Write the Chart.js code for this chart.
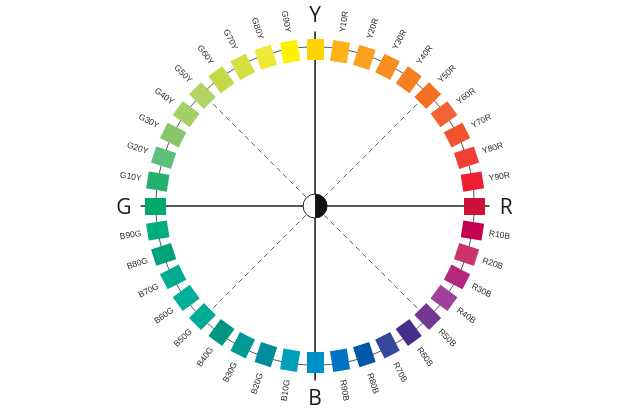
<!DOCTYPE html>
<html><head><meta charset="utf-8">
<script src="https://cdn.jsdelivr.net/npm/chart.js@4.4.0/dist/chart.umd.min.js"></script>
<style>html,body{margin:0;padding:0;background:#fff;}canvas{display:block;}</style>
</head><body>
<canvas id="c" width="635" height="413" style="width:635px;height:413px"></canvas>
<script>
const hues = ['Y','Y10R','Y20R','Y30R','Y40R','Y50R','Y60R','Y70R','Y80R','Y90R',
  'R','R10B','R20B','R30B','R40B','R50B','R60B','R70B','R80B','R90B',
  'B','B10G','B20G','B30G','B40G','B50G','B60G','B70G','B80G','B90G',
  'G','G10Y','G20Y','G30Y','G40Y','G50Y','G60Y','G70Y','G80Y','G90Y'];
const colors = ['#FFD200','#FDB21A','#F9A11E','#F68F1F','#F47E20','#F37022','#F26232','#F0542F','#EE4034','#ED1C2E',
  '#CE1139','#C4004F','#C8336C','#B3287C','#A1409A','#753890','#452F8A','#37479B','#0057A5','#0074C2',
  '#0090C8','#00A0B8','#008C99','#009A95','#009680','#00AA94','#00AF96','#00AB90','#00A27C','#00AD80',
  '#00A96C','#23AF6E','#5EBF7B','#87C669','#A3CF67','#B2D462','#C3D948','#D4E042','#EEE837','#FFF200'];
const primaryLetters = ['Y','R','B','G'];

const R_PX = 165, CX = 315, CY = 206, W = 635, H = 413;
const STEP = 360 / hues.length;

function makeTile(col){
  const c = document.createElement('canvas');
  c.width = 17; c.height = 21;
  const g = c.getContext('2d');
  g.fillStyle = col; g.fillRect(0,0,17,21);
  return c;
}
const tiles = colors.map(makeTile);
const points = hues.map((h,i)=>{ const a = i*STEP*Math.PI/180; return {x: Math.sin(a), y: Math.cos(a)}; });
const rotations = hues.map((h,i)=> i*STEP);

const decor = {
  id:'decor',
  beforeDatasetsDraw(chart){
    const {ctx, scales:{x,y}} = chart;
    const cx = x.getPixelForValue(0), cy = y.getPixelForValue(0);
    const r = x.getPixelForValue(1) - cx;
    ctx.save();
    ctx.strokeStyle = '#555'; ctx.lineWidth = 1;
    ctx.beginPath(); ctx.arc(cx, cy, r, 0, Math.PI*2); ctx.stroke();
    ctx.setLineDash([5,4]); ctx.strokeStyle = '#444'; ctx.lineWidth = 0.9;
    [45,135,225,315].forEach(d=>{
      const a = d*Math.PI/180;
      ctx.beginPath();
      ctx.moveTo(cx + Math.sin(a)*13, cy - Math.cos(a)*13);
      ctx.lineTo(cx + Math.sin(a)*r*0.93, cy - Math.cos(a)*r*0.93);
      ctx.stroke();
    });
    ctx.setLineDash([]);
    const L = r*1.095;
    ctx.strokeStyle = '#222'; ctx.lineWidth = 1.6;
    ctx.beginPath();
    ctx.moveTo(cx - L, cy); ctx.lineTo(cx + L, cy);
    ctx.moveTo(cx, cy - L); ctx.lineTo(cx, cy + L);
    ctx.stroke();
    ctx.restore();
  },
  afterDatasetsDraw(chart){
    const {ctx, scales:{x,y}} = chart;
    const cx = x.getPixelForValue(0), cy = y.getPixelForValue(0);
    const r = x.getPixelForValue(1) - cx;
    ctx.save();
    const cr = 12;
    ctx.fillStyle = '#fff';
    ctx.beginPath(); ctx.arc(cx, cy, cr, 0, Math.PI*2); ctx.fill();
    ctx.fillStyle = '#111';
    ctx.beginPath(); ctx.arc(cx, cy, cr, -Math.PI/2, Math.PI/2); ctx.closePath(); ctx.fill();
    ctx.strokeStyle = '#222'; ctx.lineWidth = 1;
    ctx.beginPath(); ctx.arc(cx, cy, cr, 0, Math.PI*2); ctx.stroke();
    ctx.fillStyle = '#2a2a2a';
    ctx.font = '8.5px "Liberation Sans", Arial, sans-serif';
    ctx.textAlign = 'center'; ctx.textBaseline = 'middle';
    hues.forEach((h,i)=>{
      if (primaryLetters.includes(h)) return;
      const d = i*STEP, a = d*Math.PI/180, lr = r*1.172;
      const px = cx + Math.sin(a)*lr, py = cy - Math.cos(a)*lr;
      const rot = (d < 180 ? d - 90 : d - 270) * Math.PI/180;
      ctx.save(); ctx.translate(px, py); ctx.rotate(rot);
      ctx.fillText(h, 0, 0); ctx.restore();
    });
    ctx.fillStyle = '#1a1a1a';
    ctx.font = '400 21px "Open Sans", "Liberation Sans", sans-serif';
    ctx.textBaseline = 'alphabetic';
    hues.forEach((h,i)=>{
      if (!primaryLetters.includes(h)) return;
      const a = i*STEP*Math.PI/180, lr = r*1.2;
      ctx.fillText(h, cx + Math.sin(a)*lr, cy - Math.cos(a)*lr + 7.5);
    });
    ctx.restore();
  }
};

new Chart(document.getElementById('c'), {
  type:'scatter',
  data:{ labels: hues, datasets:[{
    data: points,
    pointStyle: ctx => tiles[ctx.dataIndex],
    rotation: rotations,
    pointRadius: 10,
    clip: false
  }]},
  options:{
    responsive:false, animation:false, events:[],
    layout:{padding:0},
    plugins:{legend:{display:false}, tooltip:{enabled:false}},
    scales:{
      x:{type:'linear', display:false, min:-CX/R_PX, max:(W-CX)/R_PX},
      y:{type:'linear', display:false, min:-(H-CY)/R_PX, max:CY/R_PX}
    }
  },
  plugins:[decor]
});
</script>
</body></html>
